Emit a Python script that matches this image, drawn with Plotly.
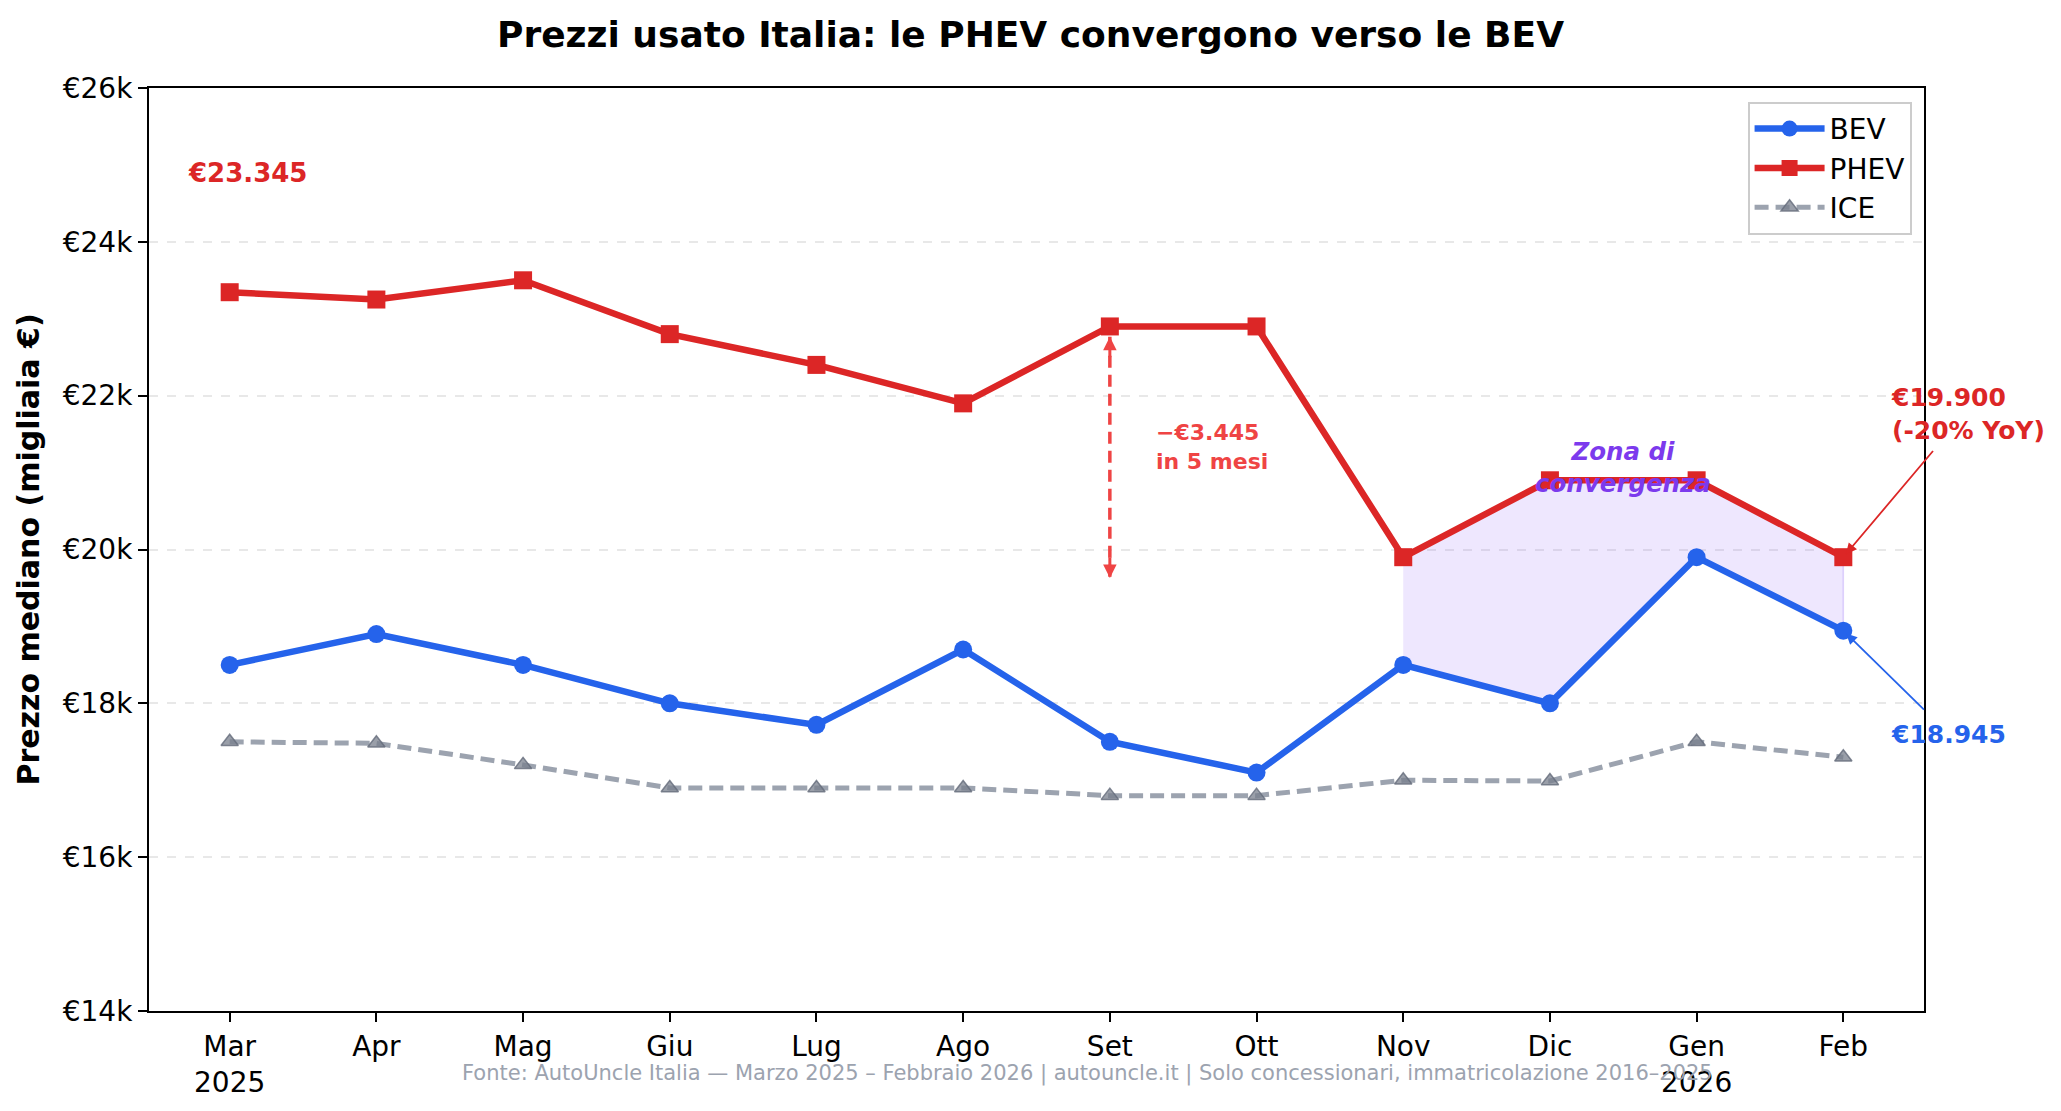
import plotly.graph_objects as go

months = ["Mar", "Apr", "Mag", "Giu", "Lug", "Ago", "Set", "Ott", "Nov", "Dic", "Gen", "Feb"]
tick_labels = ["Mar<br>2025", "Apr", "Mag", "Giu", "Lug", "Ago", "Set", "Ott", "Nov", "Dic", "Gen<br>2026", "Feb"]
bev = [18500, 18900, 18500, 18000, 17720, 18700, 17500, 17100, 18500, 18000, 19900, 18945]
phev = [23345, 23250, 23500, 22800, 22400, 21900, 22900, 22900, 19900, 20900, 20900, 19900]
ice = [17500, 17480, 17200, 16900, 16900, 16900, 16800, 16800, 17000, 16990, 17500, 17300]
y_ticks = [14000, 16000, 18000, 20000, 22000, 24000, 26000]
y_tick_labels = ["€14k", "€16k", "€18k", "€20k", "€22k", "€24k", "€26k"]

BLUE = "#2563eb"
RED = "#dc2626"
RED_L = "#ef4444"
GRAY = "#9ca3af"
PURPLE = "#7c3aed"
FONT = "DejaVu Sans"

x = list(range(len(months)))
conv_start = 8
xs = x[conv_start:]
poly_x = xs + xs[::-1]
poly_y = phev[conv_start:] + bev[conv_start:][::-1]

fig = go.Figure()
fig.add_trace(go.Scatter(x=poly_x, y=poly_y, fill="toself", fillcolor="rgba(139,92,246,0.15)",
                         line=dict(color="rgba(139,92,246,0.25)", width=1.5), mode="lines",
                         showlegend=False, hoverinfo="skip"))
fig.add_trace(go.Scatter(x=x, y=ice, name="ICE", mode="lines+markers",
                         line=dict(color=GRAY, width=5, dash="14px,7px"),
                         marker=dict(symbol="triangle-up", size=15, color="rgba(120,127,140,0.75)",
                                     line=dict(color="rgba(100,108,122,0.8)", width=1.5))))
fig.add_trace(go.Scatter(x=x, y=phev, name="PHEV", mode="lines+markers",
                         line=dict(color=RED, width=6.5),
                         marker=dict(symbol="square", size=18, color=RED)))
fig.add_trace(go.Scatter(x=x, y=bev, name="BEV", mode="lines+markers",
                         line=dict(color=BLUE, width=6.5),
                         marker=dict(symbol="circle", size=18, color=BLUE)))

drop = phev[0] - phev[-1]
set_i = 6
top = phev[set_i] - 135
bot = phev[set_i] - drop + 175
fig.add_shape(type="line", x0=set_i, x1=set_i, y0=top, y1=bot,
              line=dict(color=RED_L, width=3.5, dash="12px,7px"))

annotations = [
    dict(x=set_i, y=top, ax=0, ay=22, text="", showarrow=True,
         arrowhead=2, arrowsize=0.9, arrowwidth=3, arrowcolor=RED_L),
    dict(x=set_i, y=bot, ax=0, ay=-22, text="", showarrow=True,
         arrowhead=2, arrowsize=0.9, arrowwidth=3, arrowcolor=RED_L),
    dict(x=6.3, y=21330, text="−€3.445<br>in 5 mesi", showarrow=False, xanchor="left", yanchor="middle",
         align="left", font=dict(family=FONT, size=22, color=RED_L, weight="bold")),
    dict(x=-0.3, y=24900, text="€23.345", showarrow=False, xanchor="left", yanchor="middle",
         font=dict(family=FONT, size=26, color=RED, weight="bold")),
    dict(x=9.5, y=21070, text="<i>Zona di<br>convergenza</i>", showarrow=False, xanchor="center",
         yanchor="middle", font=dict(family=FONT, size=24.5, color=PURPLE, weight="bold")),
    dict(x=11.31, y=21760, text="€19.900<br>(-20% YoY)", showarrow=False, xanchor="left", yanchor="middle",
         align="left", font=dict(family=FONT, size=25, color=RED, weight="bold")),
    dict(x=11.0, y=phev[-1], ax=11.62, ay=21300, axref="x", ayref="y", text="", showarrow=True,
         arrowhead=2, arrowsize=1.2, arrowwidth=1.8, arrowcolor=RED, standoff=4),
    dict(x=11.31, y=17590, text="€18.945", showarrow=False, xanchor="left", yanchor="middle",
         font=dict(family=FONT, size=25, color=BLUE, weight="bold")),
    dict(x=11.0, y=bev[-1], ax=11.56, ay=17900, axref="x", ayref="y", text="", showarrow=True,
         arrowhead=2, arrowsize=1.2, arrowwidth=1.8, arrowcolor=BLUE, standoff=4),
    dict(x=0.529, y=-0.068, xref="paper", yref="paper", text="Fonte: AutoUncle Italia — Marzo 2025 – Febbraio 2026 | autouncle.it | Solo concessionari, immatricolazione 2016–2025",
         showarrow=False, xanchor="center", yanchor="middle", font=dict(family=FONT, size=21, color=GRAY)),
]

fig.update_layout(
    width=2061, height=1111,
    margin=dict(l=149, r=137, t=88, b=100),
    paper_bgcolor="white", plot_bgcolor="white",
    font=dict(family=FONT, size=28, color="black"),
    title=dict(text="<b>Prezzi usato Italia: le PHEV convergono verso le BEV</b>", x=0.5, xanchor="center",
               y=1 - 34 / 1111, yanchor="middle", font=dict(family=FONT, size=36, color="black")),
    showlegend=True,
    legend=dict(x=0.993, y=0.985, xanchor="right", yanchor="top", bgcolor="white",
                bordercolor="#cccccc", borderwidth=2, traceorder="reversed",
                font=dict(family=FONT, size=28), itemwidth=70, tracegroupgap=4),
    annotations=annotations,
)
fig.update_xaxes(range=[-0.55, 11.55], tickmode="array", tickvals=x, ticktext=tick_labels,
                 showline=True, linecolor="black", linewidth=2, mirror=True, showgrid=False,
                 ticks="outside", ticklen=9, tickwidth=2, tickcolor="black", zeroline=False,
                 tickfont=dict(family=FONT, size=28, color="black"))
fig.update_yaxes(range=[14000, 26000], tickmode="array", tickvals=y_ticks, ticktext=y_tick_labels,
                 showline=True, linecolor="black", linewidth=2, mirror=True,
                 showgrid=True, gridcolor="#e8e8e8", griddash="dash", gridwidth=2,
                 ticks="outside", ticklen=9, tickwidth=2, tickcolor="black", zeroline=False,
                 tickfont=dict(family=FONT, size=28, color="black"),
                 title=dict(text="<b>Prezzo mediano (migliaia €)</b>", font=dict(family=FONT, size=30), standoff=14))

fig.write_html("out.html")
